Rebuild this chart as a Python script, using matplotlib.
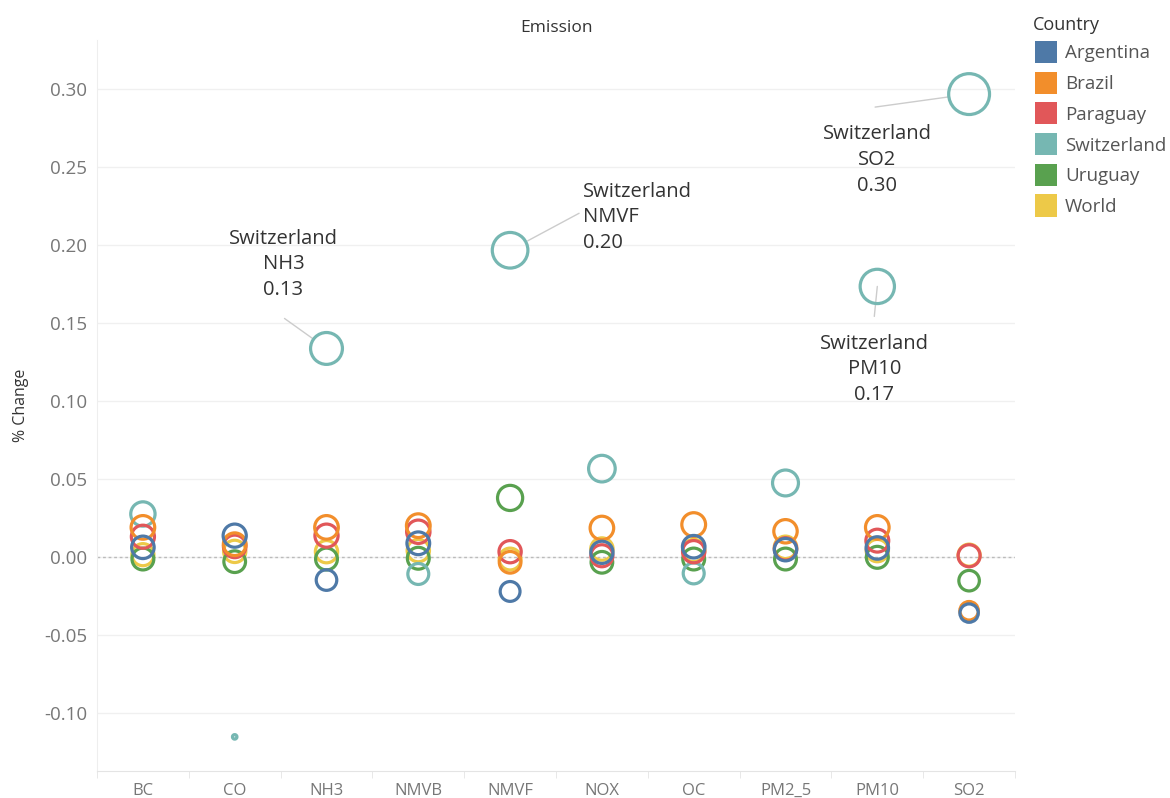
import matplotlib
matplotlib.use("Agg")
import matplotlib.pyplot as plt
from matplotlib.patches import Rectangle
import numpy as np

plt.rcParams['font.family'] = ['Open Sans', 'DejaVu Sans']

emissions = ["BC", "CO", "NH3", "NMVB", "NMVF", "NOX", "OC", "PM2_5", "PM10", "SO2"]
countries = ["Argentina", "Brazil", "Paraguay", "Switzerland", "Uruguay", "World"]
colors = ["#4e79a7", "#f28e2b", "#e15759", "#76b7b2", "#59a14f", "#edc948"]

argentina   = [0.0060, 0.0135, -0.0150, 0.0086, -0.0223, 0.0028, 0.0064, 0.0045, 0.0056, -0.0362]
brazil      = [0.0188, 0.0080, 0.0188, 0.0199, -0.0036, 0.0184, 0.0206, 0.0163, 0.0188, -0.0347]
paraguay    = [0.0128, 0.0066, 0.0135, 0.0160, 0.0032, 0.0006, 0.0032, 0.0050, 0.0103, 0.0006]
switzerland = [0.0274, -0.1156, 0.1336, -0.0111, 0.1966, 0.0565, -0.0107, 0.0473, 0.1734, 0.2968]
uruguay     = [-0.0015, -0.0032, -0.0015, -0.0010, 0.0377, -0.0036, -0.0015, -0.0015, -0.0004, -0.0154]
world       = [0.0013, 0.0034, 0.0032, 0.0039, -0.0015, 0.0049, 0.0040, 0.0060, 0.0039, 0.0010]
series = [argentina, brazil, paraguay, switzerland, uruguay, world]

yticks = [-0.10, -0.05, 0.00, 0.05, 0.10, 0.15, 0.20, 0.25, 0.30]

fig = plt.figure(figsize=(11.7, 7.98), dpi=100)
ax = fig.add_axes([97/1170, 1-771/798, (1015-97)/1170, (771-40)/798])

allv = np.array(series)
vmin = allv.min()

def size_of(v):
    v = np.asarray(v)
    return 250 * (v - vmin + 0.005) / (0.0 - vmin + 0.005)

x = np.arange(len(emissions))
for vals, col in list(zip(series, colors))[::-1]:
    ax.scatter(x, vals, s=size_of(vals), facecolors='none', edgecolors=col,
               linewidths=2.3, zorder=3)

ax.set_xlim(-0.5, len(emissions) - 0.5)
ax.set_ylim(-0.1375, 0.3315)
ax.set_yticks(yticks)
ax.set_yticklabels([f"{t:.2f}" for t in yticks])
ax.set_xticks(x)
ax.set_xticklabels(emissions)
ax.set_xticks(np.arange(len(emissions) + 1) - 0.5, minor=True)
ax.tick_params(axis='x', which='major', length=0, labelsize=12, labelcolor='#777777', pad=8.5)
ax.tick_params(axis='x', which='minor', length=5, color='#e4e4e4')
ax.tick_params(axis='y', length=0, labelsize=13.5, labelcolor='#777777', pad=7)
ax.grid(axis='y', color='#f0f0f0', linewidth=1)
ax.set_axisbelow(True)
ax.axhline(0, color='#bbbbbb', linestyle=(0, (2, 2)), linewidth=1, zorder=1)
for s in ['top', 'right']:
    ax.spines[s].set_visible(False)
ax.spines['left'].set_color('#eeeeee')
ax.spines['bottom'].set_color('#e4e4e4')
ax.set_ylabel('% Change', fontsize=11.5, color='#333333', labelpad=11)
ax.set_title('Emission', fontsize=12.5, color='#333333', pad=5.5)

# annotations (Switzerland)
sw = switzerland
def annot(idx, tdx, tdy, ha, lx, ly, shrink_px):
    v = sw[idx]
    ax.annotate(f"Switzerland\n{emissions[idx]}\n{v:.2f}", xy=(idx, v),
                xytext=(tdx, tdy), textcoords='offset pixels', ha=ha, va='center',
                multialignment=ha if ha != 'center' else 'center',
                fontsize=14.5, color='#333333', linespacing=1.38, zorder=5)
    ax.annotate('', xy=(idx, v), xytext=(lx, ly), textcoords='offset pixels',
                arrowprops=dict(arrowstyle='-', color='#cccccc', lw=1,
                                shrinkA=0, shrinkB=shrink_px / 1.389), zorder=2)

annot(2, -43, 84, 'center', -42, 30, 16)
annot(4, 73, 33, 'left', 69, 37, 20)
annot(9, -92, -66, 'center', -94, -13, 21)
annot(8, -3, -83, 'center', -3, -30, 0)

# legend
fig.text(1033/1170, 1-25/798, 'Country', fontsize=13, color='#333333', va='center', ha='left')
for i, (c, col) in enumerate(zip(countries, colors)):
    yc = 52 + i * 30.7
    fig.add_artist(Rectangle((1035/1170, 1-(yc+11)/798), 22/1170, 22/798,
                             transform=fig.transFigure, facecolor=col, edgecolor='none'))
    fig.text(1065/1170, 1-(yc+1.5)/798, c, fontsize=13.5, color='#555555', va='center', ha='left')

fig.savefig('out.png', dpi=100)
